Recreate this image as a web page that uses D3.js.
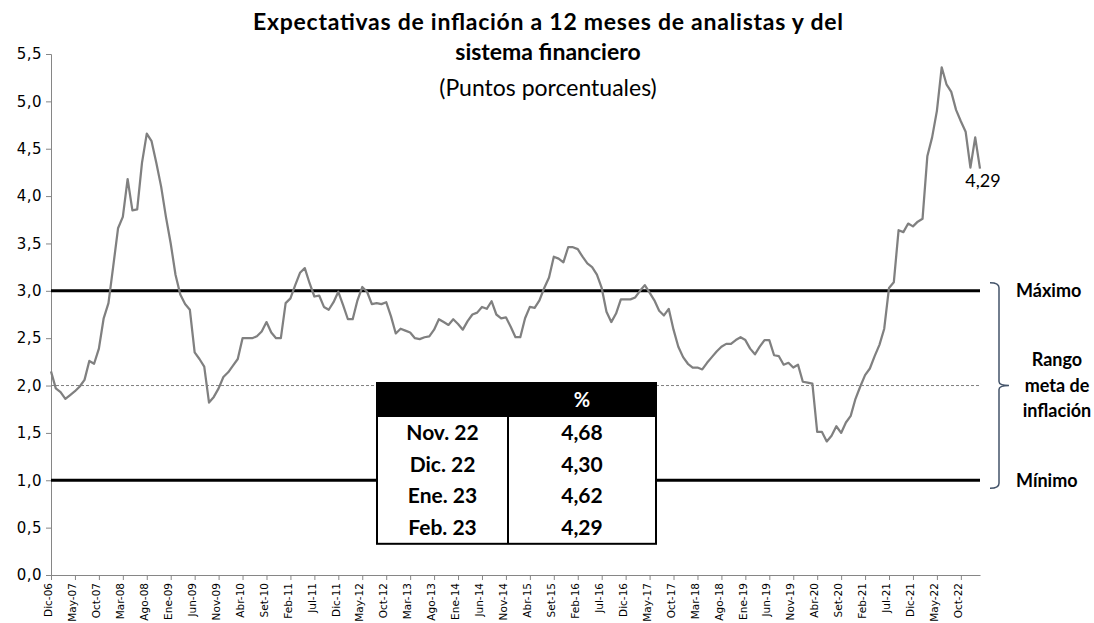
<!DOCTYPE html>
<html>
<head>
<meta charset="utf-8">
<script src="https://cdn.jsdelivr.net/npm/d3@7"></script>
<style>
  body { margin: 0; background: #fff; }
  svg text { font-family: Lato, "Open Sans", sans-serif; }
  .axis text { font-family: "DejaVu Sans", sans-serif; }
</style>
</head>
<body>
<div id="chart"></div>
<script>
// --- data ---
const monthNames = ["Ene", "Feb", "Mar", "Abr", "May", "Jun", "Jul", "Ago", "Set", "Oct", "Nov", "Dic"];
const startYear = 2006, startMonth = 11; // Dic-06

// expectativa a 12 meses, Dic-06 .. Feb-23
const expectativas = [
  2.15, 1.97, 1.93, 1.86, 1.90, 1.94, 1.99, 2.06, 2.26, 2.23, 2.39, 2.71,
  2.87, 3.26, 3.66, 3.78, 4.18, 3.85, 3.86, 4.35, 4.66, 4.58, 4.35, 4.10,
  3.78, 3.50, 3.17, 2.96, 2.86, 2.80, 2.35, 2.28, 2.20, 1.82, 1.88, 1.97,
  2.09, 2.14, 2.21, 2.28, 2.50, 2.50, 2.50, 2.52, 2.57, 2.67, 2.56, 2.50,
  2.50, 2.87, 2.92, 3.06, 3.19, 3.24, 3.08, 2.94, 2.95, 2.83, 2.80, 2.88,
  2.99, 2.85, 2.70, 2.70, 2.90, 3.04, 2.99, 2.86, 2.87, 2.86, 2.88, 2.73,
  2.55, 2.60, 2.58, 2.56, 2.50, 2.49, 2.51, 2.52, 2.59, 2.70, 2.67, 2.64,
  2.70, 2.65, 2.59, 2.68, 2.75, 2.77, 2.83, 2.81, 2.89, 2.75, 2.71, 2.72,
  2.62, 2.51, 2.51, 2.71, 2.83, 2.82, 2.90, 3.03, 3.14, 3.36, 3.34, 3.30,
  3.46, 3.46, 3.44, 3.36, 3.29, 3.25, 3.17, 3.03, 2.78, 2.67, 2.76, 2.91,
  2.91, 2.91, 2.93, 3.00, 3.06, 2.98, 2.90, 2.79, 2.74, 2.81, 2.59, 2.41,
  2.30, 2.23, 2.19, 2.19, 2.17, 2.24, 2.30, 2.36, 2.41, 2.44, 2.44, 2.48,
  2.51, 2.48, 2.39, 2.33, 2.41, 2.48, 2.48, 2.32, 2.31, 2.22, 2.24, 2.19,
  2.22, 2.04, 2.03, 2.02, 1.51, 1.51, 1.41, 1.47, 1.57, 1.50, 1.61, 1.68,
  1.86, 1.99, 2.11, 2.18, 2.31, 2.43, 2.60, 3.03, 3.09, 3.64, 3.62, 3.71,
  3.68, 3.73, 3.76, 4.42, 4.62, 4.90, 5.36, 5.18, 5.10, 4.91, 4.79, 4.68,
  4.30, 4.62, 4.29
];

const tickLabels = ["Dic-06", "May-07", "Oct-07", "Mar-08", "Ago-08", "Ene-09", "Jun-09", "Nov-09",
  "Abr-10", "Set-10", "Feb-11", "Jul-11", "Dic-11", "May-12", "Oct-12", "Mar-13", "Ago-13",
  "Ene-14", "Jun-14", "Nov-14", "Abr-15", "Set-15", "Feb-16", "Jul-16", "Dic-16", "May-17",
  "Oct-17", "Mar-18", "Ago-18", "Ene-19", "Jun-19", "Nov-19", "Abr-20", "Set-20", "Feb-21",
  "Jul-21", "Dic-21", "May-22", "Oct-22"];

const yTicks = [0, 0.5, 1, 1.5, 2, 2.5, 3, 3.5, 4, 4.5, 5, 5.5];
const rangoMax = 3, rangoMin = 1, metaCentral = 2;

const tablaMeses = ["Nov. 22", "Dic. 22", "Ene. 23", "Feb. 23"];
const tablaValores = ["4,68", "4,30", "4,62", "4,29"];

const categories = expectativas.map((d, i) => {
  const m = (startMonth + i) % 12;
  const y = startYear + Math.floor((startMonth + i) / 12);
  return monthNames[m] + "-" + String(y).slice(2);
});

// --- layout ---
const W = 1094, H = 623;
const margin = { top: 54, right: 114, bottom: 48, left: 51 };
const fmt = v => d3.format(".1f")(v).replace(".", ",");
const fmt2 = v => d3.format(".2f")(v).replace(".", ",");

const svg = d3.select("#chart").append("svg")
  .attr("width", W).attr("height", H);

const x = d3.scalePoint()
  .domain(categories)
  .range([margin.left, W - margin.right]);

const y = d3.scaleLinear()
  .domain([0, 5.5])
  .range([H - margin.bottom, margin.top]);

// title
const title = svg.append("g").attr("text-anchor", "middle");
title.append("text").attr("x", 548).attr("y", 30)
  .style("font-size", "23px").style("font-weight", "bold")
  .attr("textLength", 590).attr("lengthAdjust", "spacing")
  .text("Expectativas de inflación a 12 meses de analistas y del");
title.append("text").attr("x", 548).attr("y", 60)
  .style("font-size", "23px").style("font-weight", "bold")
  .text("sistema financiero");
title.append("text").attr("x", 548).attr("y", 96)
  .style("font-size", "23px")
  .text("(Puntos porcentuales)");

// y axis
const yAxis = svg.append("g").attr("class", "axis")
  .attr("transform", `translate(${margin.left},0)`)
  .call(d3.axisLeft(y).tickValues(yTicks).tickSize(5).tickPadding(4).tickFormat(fmt));
yAxis.select(".domain").attr("stroke", "#868686");
yAxis.selectAll(".tick line").attr("stroke", "#868686");
yAxis.selectAll("text").style("font-size", "15px").style("letter-spacing", "0.5px").attr("fill", "#000");

// x axis
const tickCats = categories.filter(c => tickLabels.includes(c));
const xAxis = svg.append("g").attr("class", "axis")
  .attr("transform", `translate(0,${H - margin.bottom})`)
  .call(d3.axisBottom(x).tickValues(tickCats).tickSize(5).tickSizeOuter(0));
xAxis.select(".domain").attr("stroke", "#868686");
xAxis.selectAll(".tick line").attr("stroke", "#868686");
xAxis.selectAll("text")
  .style("font-size", "10.5px").attr("fill", "#000")
  .attr("transform", "rotate(-90)")
  .attr("text-anchor", "end")
  .attr("x", -8).attr("y", -3).attr("dy", "0.35em");

// reference lines
const x0 = x.range()[0], x1 = x.range()[1];
svg.append("line")
  .attr("x1", x0).attr("x2", x1)
  .attr("y1", y(metaCentral)).attr("y2", y(metaCentral))
  .attr("stroke", "#7f7f7f").attr("stroke-width", 1).attr("stroke-dasharray", "3,2");
[rangoMax, rangoMin].forEach(v => {
  svg.append("line")
    .attr("x1", x0).attr("x2", x1)
    .attr("y1", y(v)).attr("y2", y(v))
    .attr("stroke", "#000").attr("stroke-width", 3);
});

// series
const line = d3.line()
  .x((d, i) => x(categories[i]))
  .y(d => y(d));
svg.append("path")
  .datum(expectativas)
  .attr("fill", "none")
  .attr("stroke", "#808080")
  .attr("stroke-width", 2.25)
  .attr("stroke-linejoin", "round")
  .attr("d", line);

// last value label
const nLast = expectativas.length - 1;
svg.append("text")
  .attr("x", x(categories[nLast]) + 3)
  .attr("y", y(expectativas[nLast]) + 18)
  .attr("text-anchor", "middle")
  .style("font-size", "18px")
  .text(fmt2(expectativas[nLast]));

// table
const tb = { x: 377, y: 383, w: 279, headH: 34, rowH: 31.7, split: 131 };
const tbl = svg.append("g").attr("transform", `translate(${tb.x},${tb.y})`);
const tbH = tb.headH + tb.rowH * tablaMeses.length;
tbl.append("rect").attr("width", tb.w).attr("height", tbH).attr("fill", "#fff");
tbl.append("rect").attr("width", tb.w).attr("height", tb.headH).attr("fill", "#000");
tbl.append("line").attr("x1", tb.split).attr("x2", tb.split)
  .attr("y1", tb.headH).attr("y2", tbH).attr("stroke", "#000").attr("stroke-width", 2);
tbl.append("rect").attr("width", tb.w).attr("height", tbH)
  .attr("fill", "none").attr("stroke", "#000").attr("stroke-width", 2);
tbl.append("text")
  .attr("x", tb.split + (tb.w - tb.split) / 2).attr("y", tb.headH / 2 + 7)
  .attr("text-anchor", "middle").attr("fill", "#fff")
  .style("font-size", "20px").style("font-weight", "bold").text("%");
tablaMeses.forEach((m, i) => {
  const cy = tb.headH + tb.rowH * i + tb.rowH / 2 + 7;
  tbl.append("text").attr("x", tb.split / 2).attr("y", cy)
    .attr("text-anchor", "middle").style("font-size", "21px").style("font-weight", "bold").text(m);
  tbl.append("text").attr("x", tb.split + (tb.w - tb.split) / 2).attr("y", cy)
    .attr("text-anchor", "middle").style("font-size", "21px").style("font-weight", "bold").text(tablaValores[i]);
});

// bracket for target range
const bTop = y(rangoMax) - 8, bBot = y(rangoMin) + 8, bMid = y(metaCentral);
const bx = 999;
svg.append("path")
  .attr("d", `M${bx - 9},${bTop} Q${bx},${bTop} ${bx},${bTop + 5} L${bx},${bMid - 4} Q${bx},${bMid} ${bx + 10},${bMid} Q${bx},${bMid} ${bx},${bMid + 4} L${bx},${bBot - 5} Q${bx},${bBot} ${bx - 9},${bBot}`)
  .attr("fill", "none").attr("stroke", "#44546a").attr("stroke-width", 1.5);

const side = svg.append("g").style("font-size", "18px").style("font-weight", "bold");
side.append("text").attr("x", 1016).attr("y", y(rangoMax)).attr("dy", "0.35em").text("Máximo");
side.append("text").attr("x", 1016).attr("y", y(rangoMin)).attr("dy", "0.35em").text("Mínimo");
["Rango", "meta de", "inflación"].forEach((t, i) => {
  side.append("text").attr("x", 1057).attr("y", bMid + (i - 1) * 25.5).attr("dy", "0.35em")
    .attr("text-anchor", "middle").text(t);
});
</script>
</body>
</html>
